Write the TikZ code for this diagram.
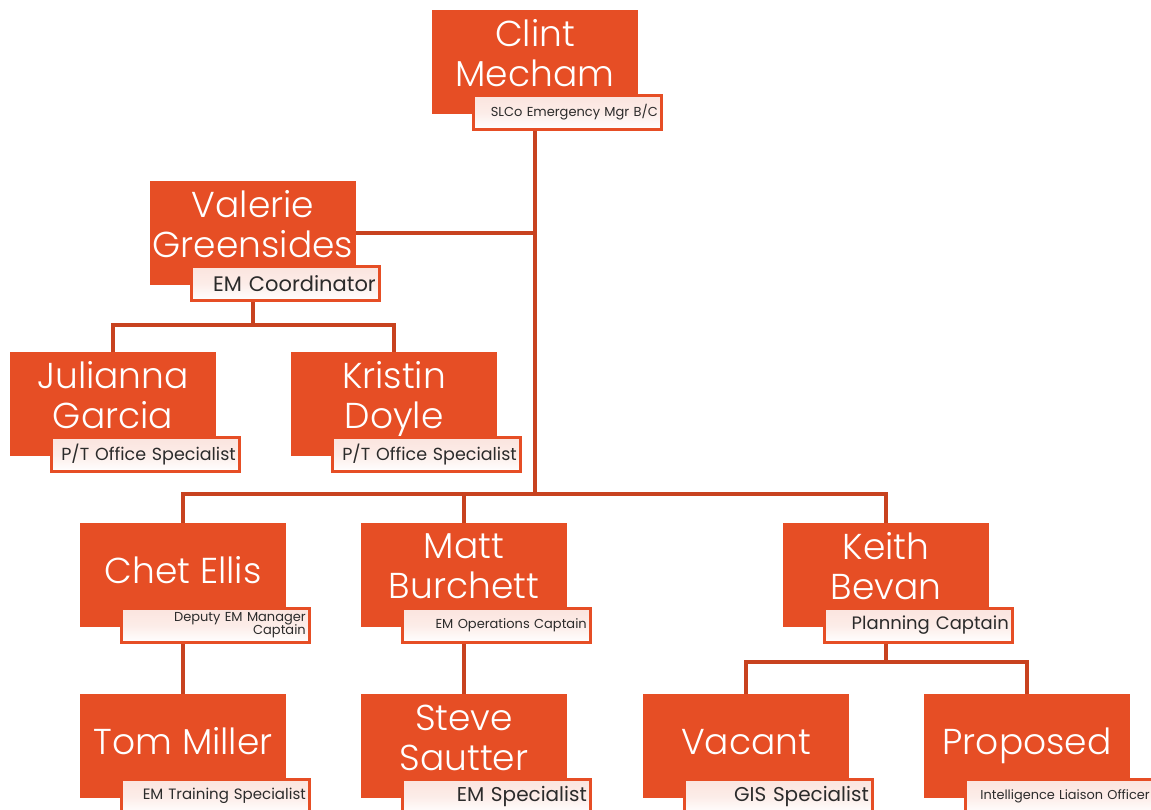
\documentclass[tikz,border=0pt]{standalone}
\usepackage{fontspec}
\setmainfont{Poppins}
\newfontfamily\thinfont{Poppins Light}
\definecolor{boxorange}{HTML}{E64E25}
\definecolor{linkred}{HTML}{C8421F}
\definecolor{titlepink}{HTML}{FBE4DE}
\definecolor{titletext}{HTML}{2B2B2B}
\pgfdeclarelayer{bg}
\pgfsetlayers{bg,main}
% equal line heights for every two-line name
\newcommand\evenline{\vphantom{Jgyhlk}}
\tikzset{
  person/.style={fill=boxorange, minimum width=206, minimum height=104, inner sep=0pt},
  who/.style={text=white, align=center, inner sep=0pt,
    font=\thinfont\fontsize{36}{40}\selectfont},
  role/.style={draw=boxorange, line width=3pt, top color=titlepink,
    bottom color=white, middle color=titlepink!70,
    minimum width=188, minimum height=34, inner xsep=4pt, inner ysep=0pt,
    text width=180, align=right, text=titletext, anchor=north west},
  link/.style={draw=linkred, line width=4pt},
  fs/.style={font=\fontsize{#1}{#1}\selectfont},
}
\begin{document}
\begin{tikzpicture}[x=1pt,y=-1pt]
\useasboundingbox (0,0) rectangle (1151,810);

% people boxes
\node[person] (clint)    at (535,62)  {};
\node[person] (valerie)  at (253,233) {};
\node[person] (julianna) at (113,404) {};
\node[person] (kristin)  at (394,404) {};
\node[person] (chet)     at (183,575) {};
\node[person] (matt)     at (464,575) {};
\node[person] (keith)    at (886,575) {};
\node[person] (tom)      at (183,746) {};
\node[person] (steve)    at (464,746) {};
\node[person] (vacant)   at (746,746) {};
\node[person] (proposed) at (1027,746) {};

% names: two-line names centred a little high, single lines on a fixed baseline
\node[who] (clintN)    at ([yshift=4.5pt]clint.center)    {Clint\evenline\\Mecham\evenline};
\node[who] (valerieN)  at ([yshift=4.5pt]valerie.center)  {Valerie\evenline\\Greensides\evenline};
\node[who] (juliannaN) at ([yshift=4.5pt]julianna.center) {Julianna\evenline\\Garcia\evenline};
\node[who] (kristinN)  at ([yshift=4.5pt]kristin.center)  {Kristin\evenline\\Doyle\evenline};
\node[who] (mattN)     at ([yshift=4.5pt]matt.center)     {Matt\evenline\\Burchett\evenline};
\node[who] (keithN)    at ([yshift=4.5pt]keith.center)    {Keith\evenline\\Bevan\evenline};
\node[who] (steveN)    at ([yshift=4.5pt]steve.center)    {Steve\evenline\\Sautter\evenline};
\node[who,anchor=base] (chetN)     at ([yshift=-8pt]chet.center)     {Chet Ellis};
\node[who,anchor=base] (tomN)      at ([yshift=-8.5pt]tom.center)    {Tom Miller};
\node[who,anchor=base] (vacantN)   at ([yshift=-8.5pt]vacant.center)   {Vacant};
\node[who,anchor=base] (proposedN) at ([yshift=-8.5pt]proposed.center) {Proposed};

% role labels overlapping the lower right of each box
\node[role,fs=13]   (clintR)    at ([xshift=40.5pt,yshift=20.5pt]clint.south west)    {SLCo Emergency Mgr B/C};
\node[role,fs=21]   (valerieR)  at ([xshift=40.5pt,yshift=20.5pt]valerie.south west)  {EM Coordinator};
\node[role,fs=17.5] (juliannaR) at ([xshift=40.5pt,yshift=20.5pt]julianna.south west) {P/T Office Specialist};
\node[role,fs=17.5] (kristinR)  at ([xshift=40.5pt,yshift=20.5pt]kristin.south west)  {P/T Office Specialist};
\node[role,font=\fontsize{13}{13.5}\selectfont] (chetR) at ([xshift=40.5pt,yshift=20.5pt]chet.south west) {Deputy EM Manager\\Captain};
\node[role,fs=13]   (mattR)     at ([xshift=40.5pt,yshift=20.5pt]matt.south west)     {EM Operations Captain};
\node[role,fs=18]   (keithR)    at ([xshift=40.5pt,yshift=20.5pt]keith.south west)    {Planning Captain};
\node[role,fs=15]   (tomR)      at ([xshift=40.5pt,yshift=20.5pt]tom.south west)      {EM Training Specialist};
\node[role,fs=20]   (steveR)    at ([xshift=40.5pt,yshift=20.5pt]steve.south west)    {EM Specialist};
\node[role,fs=20]   (vacantR)   at ([xshift=40.5pt,yshift=20.5pt]vacant.south west)   {GIS Specialist};
\node[role,fs=12.9] (proposedR) at ([xshift=40.5pt,yshift=20.5pt]proposed.south west) {Intelligence Liaison Officer};

% bus levels
\coordinate (mainbus)  at (0,494);
\coordinate (valbus)   at (0,325);
\coordinate (keithbus) at (0,662);

\begin{pgfonlayer}{bg}
  \draw[link] (clint.center) -- (clint.center |- mainbus);
  \draw[link] (valerie.center) -- (valerie.center -| clint.center);
  \draw[link] (valerie.center) -- (valerie.center |- valbus);
  \draw[link] (julianna.north) |- (kristin.north |- valbus) -- (kristin.north);
  \draw[link] (chet.north) |- (keith.north |- mainbus) -- (keith.north);
  \draw[link] (matt.north) -- (matt.north |- mainbus);
  \draw[link] (chet.center) -- (tom.center);
  \draw[link] (matt.center) -- (steve.center);
  \draw[link] (keith.center) -- (keith.center |- keithbus);
  \draw[link] (vacant.north) |- (proposed.north |- keithbus) -- (proposed.north);
\end{pgfonlayer}
\end{tikzpicture}
\end{document}
